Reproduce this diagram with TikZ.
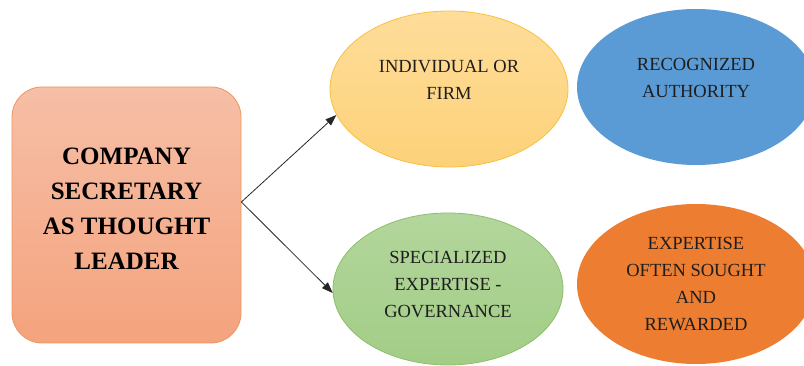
\documentclass[tikz,border=0pt]{standalone}
\usepackage{fontspec}
\setmainfont{Liberation Serif}
\usetikzlibrary{shapes.geometric,arrows.meta}
\definecolor{rectTop}{HTML}{F6BFA7}
\definecolor{rectBot}{HTML}{F4A37D}
\definecolor{rectLine}{HTML}{F0955F}
\definecolor{yelTop}{HTML}{FEDD9A}
\definecolor{yelBot}{HTML}{FDD179}
\definecolor{yelLine}{HTML}{F7C140}
\definecolor{grnTop}{HTML}{B3D69C}
\definecolor{grnBot}{HTML}{A2CD86}
\definecolor{grnLine}{HTML}{8CBF6A}
\definecolor{bluFill}{HTML}{5B9BD5}
\definecolor{orgFill}{HTML}{ED7D31}
\definecolor{txtDark}{HTML}{1E1E1E}
\begin{document}
\begin{tikzpicture}[x=1pt,y=-1pt,
  blob/.style={ellipse, inner sep=0pt, minimum width=238pt, minimum height=156pt,
    align=center, text=txtDark, font=\fontsize{18.5}{27}\selectfont},
  mainbox/.style={rounded corners=30pt, minimum width=229pt, minimum height=256pt,
    inner sep=0pt, align=center, font=\bfseries\fontsize{25}{35}\selectfont,
    top color=rectTop, bottom color=rectBot, draw=rectLine, line width=0.8pt},
  link/.style={draw=black!85, line width=0.8pt, -{Triangle[length=11pt,width=8pt]}}]
\useasboundingbox (0,0) rectangle (804,366);
\clip (0,0) rectangle (804,366);
\node[mainbox] (main) at (126.5,215) {COMPANY\\SECRETARY\\AS THOUGHT\\LEADER\\[-22pt]};
\node[blob, top color=yelTop, bottom color=yelBot, draw=yelLine, line width=0.8pt] (ind) at (449,89) {INDIVIDUAL OR\\FIRM\\[-9pt]};
\node[blob, fill=bluFill] (rec) at (696,87) {RECOGNIZED\\AUTHORITY\\[-9pt]};
\node[blob, minimum width=230pt, minimum height=152pt, top color=grnTop, bottom color=grnBot, draw=grnLine, line width=0.8pt] (spec) at (448,289) {SPECIALIZED\\EXPERTISE -\\GOVERNANCE\\[-17pt]};
\node[blob, minimum height=160pt, fill=orgFill] (exp) at (696,284) {EXPERTISE\\OFTEN SOUGHT\\AND\\REWARDED};
\coordinate (src) at ([yshift=13pt]main.east);
\draw[link] (src) -- (ind.193);
\draw[link] (src) -- (spec.182);
\end{tikzpicture}
\end{document}
